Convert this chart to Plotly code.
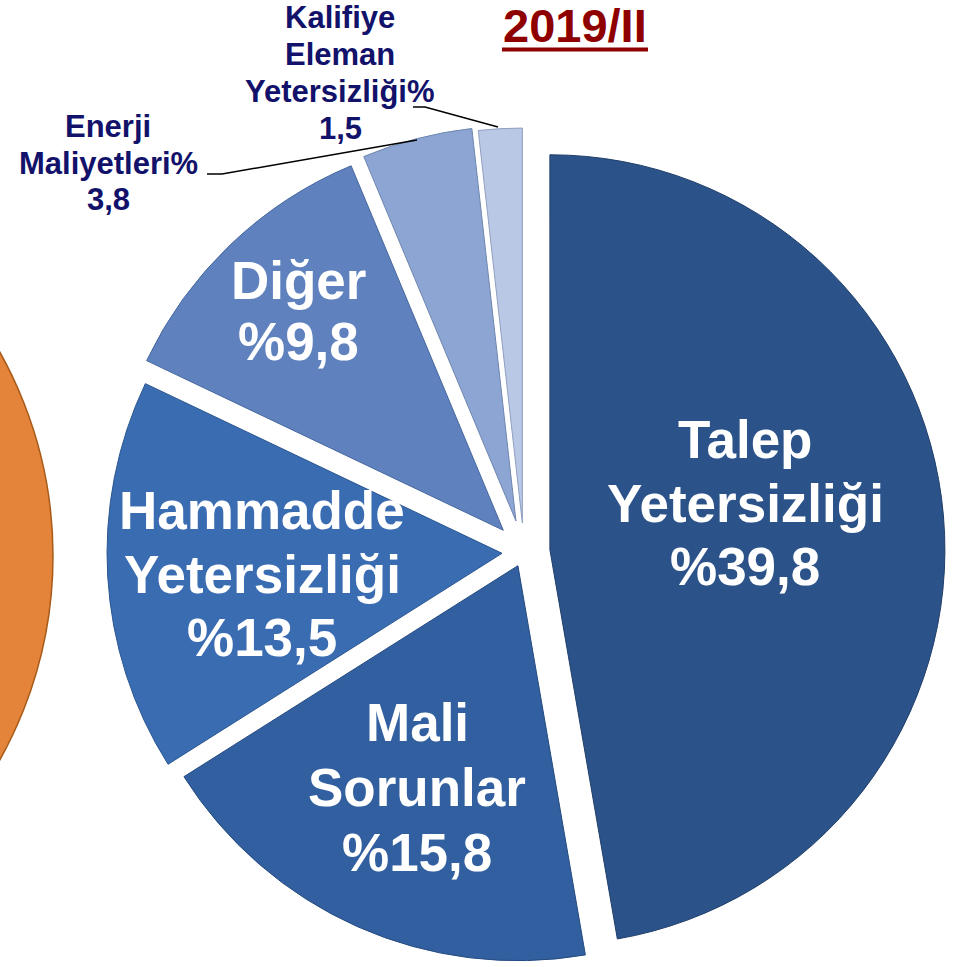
import numpy as np
import plotly.graph_objects as go

# ---------------- data ----------------
labels = ["Talep Yetersizliği", "Mali Sorunlar", "Hammadde Yetersizliği",
          "Diğer", "Enerji Maliyetleri", "Kalifiye Eleman Yetersizliği"]
values = [39.8, 15.8, 13.5, 9.8, 3.8, 1.5]
label_lines = [["Talep", "Yetersizliği"], ["Mali", "Sorunlar"],
               ["Hammadde", "Yetersizliği"], ["Diğer"],
               ["Enerji", "Maliyetleri"], ["Kalifiye", "Eleman", "Yetersizliği"]]
inside = [True, True, True, True, False, False]
title_text = "2019/II"

# ---------------- style ----------------
colors = ["#2C5389", "#315F9F", "#3A6CB2", "#5F82BE", "#8CA5D2", "#B9C8E4"]
edges = ["#1F3E6A", "#244A80", "#2A5690", "#46679E", "#6E86B0", "#8E9FC0"]
pull_px = [26, 15, 22, 30, 32, 29]
# label block centre (px) and line spacing (px)
label_pos = [(745, 503, 63), (417, 787, 65), (262, 574, 63.5), (298, 311, 61),
             (108, 163, 36), (340, 73, 36.7)]
FONT = "Liberation Sans, Arial"

W, H = 965, 967
CX, CY, R = 524, 552, 395


def P(x, y):
    return x / W, 1 - y / H


vals = np.array(values)
theta = 2 * np.pi * (np.cumsum(vals) - vals / 2) / vals.sum()
n = len(values)

fig = go.Figure()
for i in range(n):
    cx = CX + pull_px[i] * np.sin(theta[i])
    cy = CY - pull_px[i] * np.cos(theta[i])
    sc = ["rgba(0,0,0,0)"] * n
    sc[i] = colors[i]
    lw = [0] * n
    lw[i] = 1
    fig.add_trace(go.Pie(
        labels=labels, values=values, sort=False, direction="clockwise",
        rotation=0, textinfo="none", hoverinfo="label+value", showlegend=False,
        marker=dict(colors=sc, line=dict(color=edges[i], width=lw)),
        domain=dict(x=[(cx - R) / W, (cx + R) / W],
                    y=[(H - cy - R) / H, (H - cy + R) / H]),
    ))

annotations = []
for i in range(n):
    vtxt = f"{values[i]:.1f}".replace(".", ",")
    if inside[i]:
        lines = label_lines[i] + ["%" + vtxt]
        font = dict(family=FONT, size=53, color="white", weight="bold")
    else:
        lines = label_lines[i][:-1] + [label_lines[i][-1] + "%", vtxt]
        font = dict(family=FONT, size=31, color="#12126A", weight="bold")
    xc, yc, sp = label_pos[i]
    for j, line in enumerate(lines):
        yy = yc + (j - (len(lines) - 1) / 2) * sp
        x, y = P(xc, yy)
        annotations.append(dict(x=x, y=y, xref="paper", yref="paper", text=line,
                                showarrow=False, font=font, xanchor="center",
                                yanchor="middle", align="center"))

tx, ty = P(575, 25)
annotations.append(dict(x=tx, y=ty, xref="paper", yref="paper",
                        text=title_text, showarrow=False,
                        font=dict(family=FONT, size=47, color="#8E0000", weight="bold"),
                        xanchor="center", yanchor="middle"))


def path(pts):
    s = ""
    for k, (x, y) in enumerate(pts):
        px, py = P(x, y)
        s += ("M" if k == 0 else "L") + f"{px:.5f},{py:.5f} "
    return s.strip()


shapes = [
    # partially visible neighbouring chart (orange)
    dict(type="circle", xref="paper", yref="paper",
         x0=(-364 - 417) / W, x1=53 / W,
         y0=(H - 556 - 417) / H, y1=(H - 556 + 417) / H,
         fillcolor="#E3843A", line=dict(color="#A85A18", width=1.5), layer="below"),
    # leader lines
    dict(type="path", xref="paper", yref="paper",
         path=path([(207, 174), (222, 174), (417, 140)]),
         line=dict(color="black", width=1.5)),
    dict(type="path", xref="paper", yref="paper",
         path=path([(413, 107), (425, 107), (498, 127)]),
         line=dict(color="black", width=1.5)),
    # title underline
    dict(type="path", xref="paper", yref="paper",
         path=path([(502, 49.5), (648, 49.5)]),
         line=dict(color="#8E0000", width=4)),
]

fig.update_layout(width=W, height=H, margin=dict(l=0, r=0, t=0, b=0),
                  paper_bgcolor="white", plot_bgcolor="white",
                  annotations=annotations, shapes=shapes, showlegend=False)

fig.write_html("out.html", config={"displayModeBar": False},
               post_script="document.body.style.margin='0px';")
